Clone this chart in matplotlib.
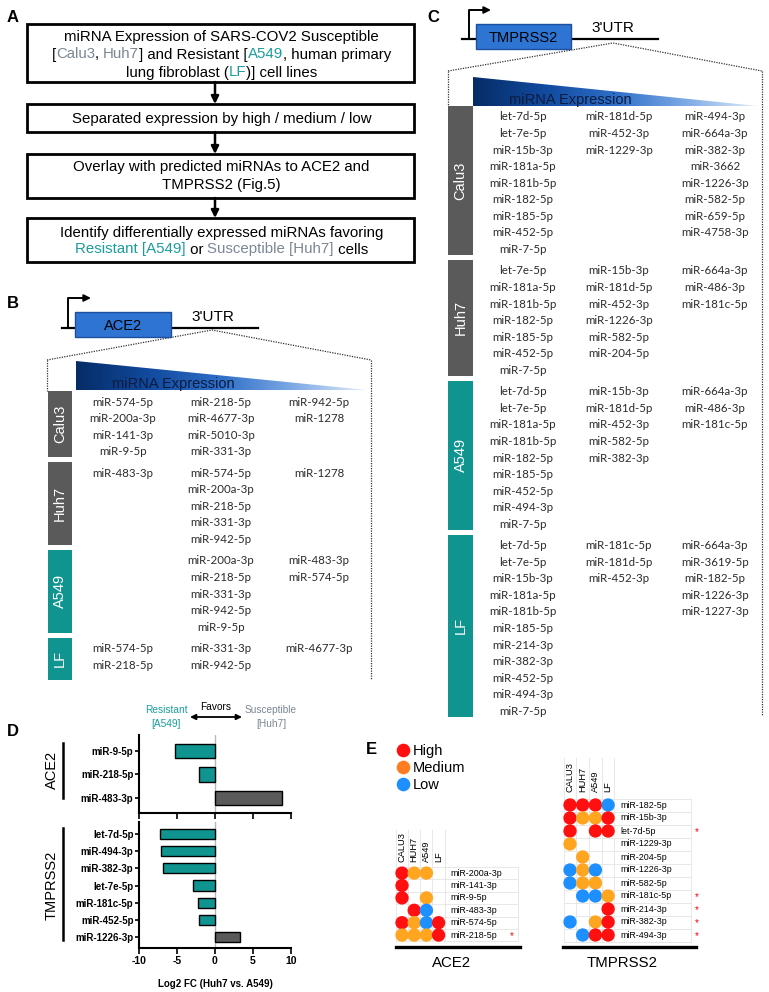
import numpy as np
import matplotlib
matplotlib.use("Agg")
import matplotlib.pyplot as plt
from matplotlib.patches import Rectangle, Polygon
from matplotlib.colors import LinearSegmentedColormap
from matplotlib.lines import Line2D
from matplotlib.font_manager import FontProperties

plt.rcParams['font.family'] = ['Liberation Sans', 'DejaVu Sans']

# ---------------- DATA ----------------
# Panel A: workflow steps (text pieces + colour key)
step1 = [[("miRNA Expression of SARS-COV2 Susceptible", "k")],
         [("[", "k"), ("Calu3", "g"), (", ", "k"), ("Huh7", "g"), ("] and Resistant [", "k"),
          ("A549", "t"), (", human primary", "k")],
         [("lung fibroblast (", "k"), ("LF", "t"), (")] cell lines", "k")]]
step2 = [[("Separated expression by high / medium / low", "k")]]
step3 = [[("Overlay with predicted miRNAs to ACE2 and", "k")], [("TMPRSS2 (Fig.5)", "k")]]
step4 = [[("Identify differentially expressed miRNAs favoring", "k")],
         [("Resistant [A549]", "t"), (" or ", "k"), ("Susceptible [Huh7]", "g"), (" cells", "k")]]

cell_lines = ["Calu3", "Huh7", "A549", "LF"]

# Panel B: ACE2 miRNAs (high / medium / low columns) per cell line
ace2_calu3 = [["miR-574-5p", "miR-200a-3p", "miR-141-3p", "miR-9-5p"],
              ["miR-218-5p", "miR-4677-3p", "miR-5010-3p", "miR-331-3p"],
              ["miR-942-5p", "miR-1278"]]
ace2_huh7 = [["miR-483-3p"],
             ["miR-574-5p", "miR-200a-3p", "miR-218-5p", "miR-331-3p", "miR-942-5p"],
             ["miR-1278"]]
ace2_a549 = [[],
             ["miR-200a-3p", "miR-218-5p", "miR-331-3p", "miR-942-5p", "miR-9-5p"],
             ["miR-483-3p", "miR-574-5p"]]
ace2_lf = [["miR-574-5p", "miR-218-5p"],
           ["miR-331-3p", "miR-942-5p"],
           ["miR-4677-3p"]]

# Panel C: TMPRSS2 miRNAs per cell line
tmp_calu3 = [["let-7d-5p", "let-7e-5p", "miR-15b-3p", "miR-181a-5p", "miR-181b-5p", "miR-182-5p",
              "miR-185-5p", "miR-452-5p", "miR-7-5p"],
             ["miR-181d-5p", "miR-452-3p", "miR-1229-3p"],
             ["miR-494-3p", "miR-664a-3p", "miR-382-3p", "miR-3662", "miR-1226-3p", "miR-582-5p",
              "miR-659-5p", "miR-4758-3p"]]
tmp_huh7 = [["let-7e-5p", "miR-181a-5p", "miR-181b-5p", "miR-182-5p", "miR-185-5p", "miR-452-5p", "miR-7-5p"],
            ["miR-15b-3p", "miR-181d-5p", "miR-452-3p", "miR-1226-3p", "miR-582-5p", "miR-204-5p"],
            ["miR-664a-3p", "miR-486-3p", "miR-181c-5p"]]
tmp_a549 = [["let-7d-5p", "let-7e-5p", "miR-181a-5p", "miR-181b-5p", "miR-182-5p", "miR-185-5p",
             "miR-452-5p", "miR-494-3p", "miR-7-5p"],
            ["miR-15b-3p", "miR-181d-5p", "miR-452-3p", "miR-582-5p", "miR-382-3p"],
            ["miR-664a-3p", "miR-486-3p", "miR-181c-5p"]]
tmp_lf = [["let-7d-5p", "let-7e-5p", "miR-15b-3p", "miR-181a-5p", "miR-181b-5p", "miR-185-5p",
           "miR-214-3p", "miR-382-3p", "miR-452-5p", "miR-494-3p", "miR-7-5p"],
          ["miR-181c-5p", "miR-181d-5p", "miR-452-3p"],
          ["miR-664a-3p", "miR-3619-5p", "miR-182-5p", "miR-1226-3p", "miR-1227-3p"]]

# Panel D: log2 fold change (Huh7 vs A549)
d_ace2_mirs = ["miR-9-5p", "miR-218-5p", "miR-483-3p"]
d_ace2_fc = [-5.2, -2.1, 8.8]
d_tmp_mirs = ["let-7d-5p", "miR-494-3p", "miR-382-3p", "let-7e-5p", "miR-181c-5p", "miR-452-5p", "miR-1226-3p"]
d_tmp_fc = [-7.2, -7.1, -6.9, -2.9, -2.2, -2.1, 3.3]
d_xticks = [-10, -5, 0, 5, 10]

# Panel E: expression level per cell line (H/M/L, '-' = none)
e_cells = ["CALU3", "HUH7", "A549", "LF"]
e_ace2_mirs = ["miR-200a-3p", "miR-141-3p", "miR-9-5p", "miR-483-3p", "miR-574-5p", "miR-218-5p"]
e_ace2_levels = ["HMM-", "H---", "H-M-", "-HL-", "HMLH", "MMMH"]
e_ace2_star = [0, 0, 0, 0, 0, 1]
e_tmp_mirs = ["miR-182-5p", "miR-15b-3p", "let-7d-5p", "miR-1229-3p", "miR-204-5p", "miR-1226-3p",
              "miR-582-5p", "miR-181c-5p", "miR-214-3p", "miR-382-3p", "miR-494-3p"]
e_tmp_levels = ["HHHL", "HMMH", "H-HH", "M---", "-M--", "LML-", "LMM-", "-LLM", "---H", "L-MH", "-LHH"]
e_tmp_star = [0, 0, 1, 0, 0, 0, 0, 1, 1, 1, 1]
e_legend = ["High", "Medium", "Low"]

# ---------------- STYLE ----------------
COL = {"k": "black", "g": "#7b8794", "t": "#1a9e9c"}
GRAY_BOX = "#5a5a5a"
TEAL_BOX = "#109490"
ROW_COLORS = [GRAY_BOX, GRAY_BOX, TEAL_BOX, TEAL_BOX]
LEVEL_COL = {"H": "#ff0f0f", "M": "#ffa520", "L": "#1e8fff"}
LEGEND_COL = ["#ff0f0f", "#ff7d22", "#1e8fff"]
LIST_FONT = "Lato"
LIST_COLOR = "#2b2b2b"

W, H = 769, 992
fig = plt.figure(figsize=(W / 100, H / 100), dpi=100)
ov = fig.add_axes([0, 0, 1, 1])
ov.set_xlim(0, W)
ov.set_ylim(H, 0)
ov.axis("off")
renderer = fig.canvas.get_renderer()


def text_w(s, prop):
    a = renderer.get_text_width_height_descent(s + "x", prop, ismath=False)[0]
    b = renderer.get_text_width_height_descent("x", prop, ismath=False)[0]
    return a - b


def rich_line(xc, y, pieces, prop):
    full = "".join(s for s, _ in pieces)
    x0 = xc - text_w(full, prop) / 2
    prefix = ""
    for s, c in pieces:
        off = text_w(prefix, prop) if prefix else 0
        ov.text(x0 + off, y + 4.5, s, color=COL[c], fontproperties=prop, ha="left", va="baseline")
        prefix += s


# ---------------- PANEL LETTERS ----------------
for lab, (x, y) in zip("ABCDE", [(13, 18), (13, 303), (433, 18), (13, 732), (371, 749)]):
    ov.text(x, y, lab, fontsize=12, fontweight="bold", ha="center", va="center")

# ---------------- PANEL A ----------------
propA = FontProperties(family="Liberation Sans", size=10.8)
bx0, bx1 = 27, 414
box_y = [(24, 82), (104, 132), (154, 198), (218, 262)]
line_y = [[36, 54, 72], [119], [167, 185], [232, 249]]
for (y0, y1), lines, step in zip(box_y, line_y, [step1, step2, step3, step4]):
    ov.add_patch(Rectangle((bx0, y0), bx1 - bx0, y1 - y0, fill=False, ec="black", lw=2))
    for yy, pieces in zip(lines, step):
        rich_line((bx0 + bx1) / 2 + 1, yy, pieces, propA)
for (a0, a1), (b0, b1) in zip(box_y[:-1], box_y[1:]):
    ov.annotate("", xy=(215, b0), xytext=(215, a1),
                arrowprops=dict(arrowstyle="-|>", color="black", lw=1.8, mutation_scale=11,
                                shrinkA=0, shrinkB=0))


# ---------------- PANELS B / C ----------------
grad_cmap = LinearSegmentedColormap.from_list(
    "g", ["#062c66", "#114a9e", "#2f6fc8", "#7eaae6", "#e2edf9"])


def grad_triangle(x0, x1, ytop, ybot):
    grad = np.linspace(0, 1, 256)[None, :]
    im = ov.imshow(grad, cmap=grad_cmap, extent=(x0, x1, ybot, ytop), aspect="auto", zorder=1)
    poly = Polygon([(x0, ytop), (x0, ybot), (x1, ybot)], closed=True, fc="none", ec="none")
    ov.add_patch(poly)
    im.set_clip_path(poly)


def gene_header(tss_x, base_y, lx0, lx1, arrow_top, arrow_end, box, name, utr_xy):
    ov.plot([lx0, lx1], [base_y, base_y], color="black", lw=1.6, zorder=2)
    ov.plot([tss_x, tss_x, arrow_end - 6], [base_y, arrow_top, arrow_top], color="black", lw=1.4, zorder=2)
    ov.annotate("", xy=(arrow_end, arrow_top), xytext=(arrow_end - 8, arrow_top),
                arrowprops=dict(arrowstyle="-|>", color="black", lw=1.4, mutation_scale=10,
                                shrinkA=0, shrinkB=0))
    x0, y0, w, h = box
    ov.add_patch(Rectangle((x0, y0), w, h, fc="#2e74d2", ec="#1d4f9c", lw=1, zorder=3))
    ov.text(x0 + w / 2, y0 + h / 2 + 1, name, ha="center", va="center", fontsize=10.5, zorder=4)
    ov.text(utr_xy[0], utr_xy[1], "3'UTR", ha="center", va="center", fontsize=11)


def dotted(xs, ys):
    ov.plot(xs, ys, color="#333333", lw=0.9, ls=(0, (1, 1)))


def expr_table(bx0, bx1, top, cols_x, groups, row_h=16.55, min_rows=2.55):
    y = top
    for lab, cols, col in zip(cell_lines, groups, ROW_COLORS):
        n = max(len(c) for c in cols)
        h = max(n, min_rows) * row_h
        ov.add_patch(Rectangle((bx0, y), bx1 - bx0, h, fc=col, ec="none"))
        ov.text((bx0 + bx1) / 2, y + h / 2, lab, rotation=90, color="white",
                ha="center", va="center", fontsize=10.5)
        for cx, items in zip(cols_x, cols):
            for k, s in enumerate(items):
                ov.text(cx, y + 11 + k * row_h, s, ha="center", va="center", fontsize=8.3,
                        family=LIST_FONT, color=LIST_COLOR)
        y += h + 5


# Panel B (ACE2)
gene_header(68, 328, 62, 258, 298, 91, (75, 312, 96, 25), "ACE2", (213, 317))
dotted([47, 212, 371], [360, 330, 360])
dotted([47, 47], [360, 391])
dotted([371, 371], [360, 680])
grad_triangle(76, 367, 361, 390)
ov.text(173, 384, "miRNA Expression", ha="center", va="center", fontsize=10.5, color="#0d1b3e")
expr_table(48, 72, 391, [123, 221, 319], [ace2_calu3, ace2_huh7, ace2_a549, ace2_lf])

# Panel C (TMPRSS2)
gene_header(469, 39, 462, 658, 10, 491, (476, 24, 95, 25), "TMPRSS2", (613, 28))
dotted([448, 613, 762], [71, 43, 71])
dotted([448, 448], [71, 106])
dotted([762, 762], [71, 716])
grad_triangle(473, 758, 77, 106)
ov.text(570, 100, "miRNA Expression", ha="center", va="center", fontsize=10.5, color="#0d1b3e")
expr_table(448, 473, 106, [523, 619, 715], [tmp_calu3, tmp_huh7, tmp_a549, tmp_lf])


# ---------------- PANEL D ----------------
def frac(x0, y0, x1, y1):
    return [x0 / W, 1 - y1 / H, (x1 - x0) / W, (y1 - y0) / H]


def fc_axes(rect, mirs, fc, ylim, show_x):
    ax = fig.add_axes(rect)
    pos = np.arange(len(mirs))
    colors = [TEAL_BOX if v < 0 else GRAY_BOX for v in fc]
    ax.axvline(0, color="#b8b8b8", lw=1.0, zorder=0)
    ax.barh(pos, fc, height=0.6, color=colors, edgecolor="black", lw=1.0, zorder=2)
    ax.set_xlim(-10, 10)
    ax.set_ylim(*ylim)
    ax.set_yticks(pos)
    ax.set_yticklabels(mirs, fontsize=7, fontweight="bold")
    ax.set_xticks(d_xticks)
    if show_x:
        ax.set_xticklabels([str(t) for t in d_xticks], fontsize=7.5, fontweight="bold")
    else:
        ax.set_xticklabels([])
    for s in ["top", "right"]:
        ax.spines[s].set_visible(False)
    for s in ["left", "bottom"]:
        ax.spines[s].set_linewidth(1.5)
    ax.tick_params(axis="y", length=3, width=1.2, pad=1)
    ax.tick_params(axis="x", length=4, width=1.2, pad=2)
    ax.patch.set_alpha(0)
    return ax


axd1 = fc_axes(frac(139, 735, 291, 813), d_ace2_mirs, d_ace2_fc, (2.64, -0.68), False)
axd2 = fc_axes(frac(139, 822, 291, 948), d_tmp_mirs, d_tmp_fc, (6.64, -0.7), True)
axd2.set_xlabel("Log2 FC (Huh7 vs. A549)", fontsize=7, fontweight="bold", labelpad=9)

ov.text(166, 710, "Resistant", color=COL["t"], ha="center", va="center", fontsize=7.3)
ov.text(166, 724, "[A549]", color=COL["t"], ha="center", va="center", fontsize=7.3)
ov.text(271, 710, "Susceptible", color=COL["g"], ha="center", va="center", fontsize=7.3)
ov.text(271, 724, "[Huh7]", color=COL["g"], ha="center", va="center", fontsize=7.3)
ov.text(216, 707, "Favors", color="black", ha="center", va="center", fontsize=7.3)
ov.annotate("", xy=(190, 717), xytext=(242, 717),
            arrowprops=dict(arrowstyle="<|-|>", color="black", lw=1.3, mutation_scale=8,
                            shrinkA=0, shrinkB=0))
ov.text(52, 770, "ACE2", rotation=90, ha="center", va="center", fontsize=10.5)
ov.plot([63, 63], [743, 798], color="black", lw=1.8)
ov.text(52, 885, "TMPRSS2", rotation=90, ha="center", va="center", fontsize=10.5)
ov.plot([63, 63], [828, 940], color="black", lw=1.8)


# ---------------- PANEL E ----------------
def dot_grid(px_left, px_top, dx, dy, mirs, levels, stars, title, hdr_y, star_x, line_y, line_x, title_y):
    n = len(mirs)
    ax = fig.add_axes(frac(px_left, px_top, px_left + 10 * dx, px_top + n * dy))
    ax.set_xlim(-0.5, 9.5)
    ax.set_ylim(n - 0.5, -0.5)
    ax.axis("off")
    gl = dict(color="#e4e4e4", lw=0.6, zorder=0, clip_on=False)
    for i in range(n + 1):
        ax.plot([-0.5, 9.5], [i - 0.5, i - 0.5], **gl)
    for j in range(5):
        ax.plot([j - 0.5, j - 0.5], [hdr_y - 2.6, n - 0.5], **gl)
    ax.plot([9.5, 9.5], [-0.5, n - 0.5], **gl)
    for i, row in enumerate(levels):
        for j, lv in enumerate(row):
            if lv in LEVEL_COL:
                ax.scatter(j, i, s=92, color=LEVEL_COL[lv], edgecolors="none", zorder=3, clip_on=False)
    for i, (m, st) in enumerate(zip(mirs, stars)):
        ax.text(4.0, i, m, ha="left", va="center", fontsize=6.4)
        if st:
            ax.text(star_x, i + 0.1, "*", color="red", ha="center", va="center", fontsize=7)
    for j, c in enumerate(e_cells):
        ax.text(j, hdr_y, c, rotation=90, ha="center", va="bottom", fontsize=6.7)
    ax.plot(line_x, [line_y, line_y], color="black", lw=2.4, clip_on=False)
    ax.text(4.1, title_y, title, ha="center", va="center", fontsize=10.8)
    return ax


dot_grid(395.9, 866.9, 12.2, 12.4, e_ace2_mirs, e_ace2_levels, e_ace2_star, "ACE2",
         -0.9, 9.0, 5.96, [-0.5, 9.67], 7.25)
dot_grid(563.65, 798.5, 12.7, 13.0, e_tmp_mirs, e_tmp_levels, e_tmp_star, "TMPRSS2",
         -1.0, 10.0, 10.92, [-0.55, 9.9], 12.15)

handles = [Line2D([], [], marker="o", ls="", markersize=9.8, color=c, markeredgewidth=0)
           for c in LEGEND_COL]
ov.legend(handles, e_legend, loc="upper left", bbox_to_anchor=(398, 744), bbox_transform=ov.transData,
          frameon=False, fontsize=10.5, handlelength=0.75, handletextpad=0.25, labelspacing=0.2,
          borderpad=0, borderaxespad=0)

ov.set_xlim(0, W)
ov.set_ylim(H, 0)
fig.savefig("out.png", dpi=100, facecolor="white")
